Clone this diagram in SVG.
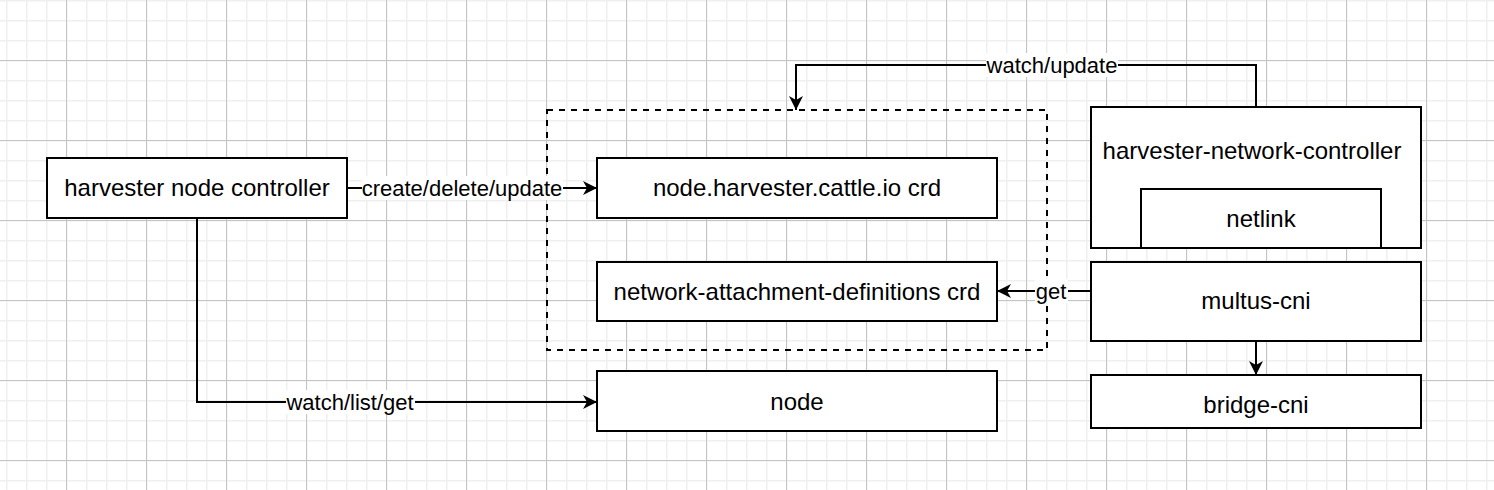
<svg xmlns="http://www.w3.org/2000/svg" width="1494" height="490" viewBox="0 0 1494 490">
<defs>
<pattern id="minor" x="6" y="0" width="20" height="20" patternUnits="userSpaceOnUse">
<path d="M0.5 0V20M0 0.5H20" stroke="#efefef" stroke-width="2" fill="none"/>
</pattern>
<pattern id="major" x="66" y="60" width="80" height="80" patternUnits="userSpaceOnUse">
<path d="M0.5 0V80M0 0.5H80" stroke="#c4c4c4" stroke-width="1" fill="none"/>
</pattern>
<marker id="arr" viewBox="0 0 14 14" refX="14" refY="7" markerWidth="14" markerHeight="14" markerUnits="userSpaceOnUse" orient="auto">
<path d="M0 0L14 7L0 14L4 7z" fill="#000"/>
</marker>
<style>
.box{fill:#fff;stroke:#000;stroke-width:2}
.t{font-family:"Liberation Sans",Arial,sans-serif;font-size:24px;fill:#000;text-anchor:middle}
.e{font-family:"Liberation Sans",Arial,sans-serif;font-size:22px;fill:#000;text-anchor:middle}
.c{fill:none;stroke:#000;stroke-width:2;marker-end:url(#arr)}
.lb{fill:#fff}
</style>
</defs>
<rect width="1494" height="490" fill="#fff"/>
<rect width="1494" height="490" fill="url(#minor)"/>
<rect width="1494" height="490" fill="url(#major)"/>

<g id="container">
<rect x="547" y="110" width="500" height="240" fill="none" stroke="#000" stroke-width="2" stroke-dasharray="6 6"/>
</g>
<g id="harvester-node-controller">
<rect class="box" x="47" y="158" width="300" height="60"/>
<text class="t" x="197" y="196">harvester node controller</text>
</g>
<g id="node-crd">
<rect class="box" x="597" y="158" width="400" height="60"/>
<text class="t" x="797" y="196">node.harvester.cattle.io crd</text>
</g>
<g id="nad-crd">
<rect class="box" x="597" y="262" width="400" height="59"/>
<text class="t" x="797" y="300">network-attachment-definitions crd</text>
</g>
<g id="node">
<rect class="box" x="597" y="371" width="400" height="60"/>
<text class="t" x="797" y="410">node</text>
</g>
<g id="harvester-network-controller">
<rect class="box" x="1091" y="107" width="330" height="141"/>
<text class="t" x="1252" y="159">harvester-network-controller</text>
</g>
<g id="netlink">
<rect class="box" x="1141" y="189" width="240" height="59"/>
<text class="t" x="1261" y="227">netlink</text>
</g>
<g id="multus-cni">
<rect class="box" x="1091" y="262" width="330" height="79"/>
<text class="t" x="1256" y="309">multus-cni</text>
</g>
<g id="bridge-cni">
<rect class="box" x="1091" y="375" width="330" height="53"/>
<text class="t" x="1256" y="413">bridge-cni</text>
</g>

<g id="connectors">
<path class="c" d="M347 188H597"/>
<rect class="lb" x="362" y="176" width="201" height="24"/>
<text class="e" x="462" y="196">create/delete/update</text>

<path class="c" d="M1256 107V65H796V110"/>
<rect class="lb" x="986" y="53" width="132" height="24"/>
<text class="e" x="1052" y="73">watch/update</text>

<path class="c" d="M1091 291H997"/>
<rect class="lb" x="1035" y="279" width="33" height="24"/>
<text class="e" x="1051" y="299">get</text>

<path class="c" d="M197 218V402H597"/>
<rect class="lb" x="286" y="390" width="129" height="24"/>
<text class="e" x="350" y="410">watch/list/get</text>

<path class="c" d="M1256 341V375"/>
</g>
</svg>
